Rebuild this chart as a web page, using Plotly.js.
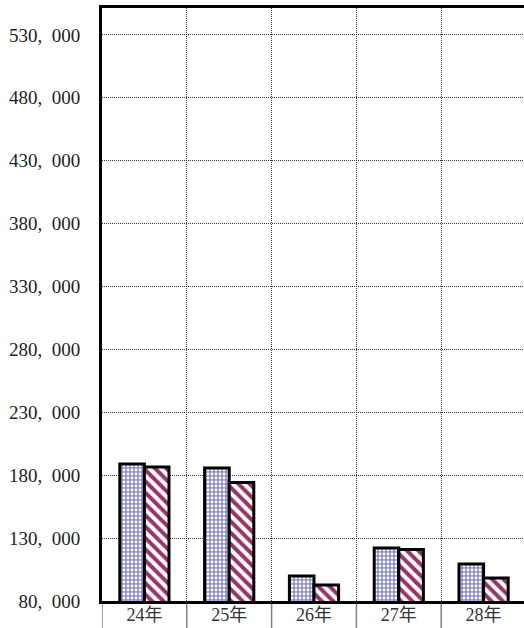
<!DOCTYPE html>
<html>
<head>
<meta charset="utf-8">
<script src="https://cdn.plot.ly/plotly-3.0.1.min.js"></script>
<style>
html,body{margin:0;padding:0;overflow:hidden;background:#fff;}
#chart{width:526px;height:628px;}
</style>
</head>
<body>
<div id="chart"></div>
<script>
const categories = ["24年", "25年", "26年", "27年", "28年"];
const seriesA = [188900, 185700, 99900, 122100, 109400];
const seriesB = [186500, 174200, 92700, 120900, 98300];
const yTickVals = [80000, 130000, 180000, 230000, 280000, 330000, 380000, 430000, 480000, 530000];
const yTickText = ["80,\u2002000", "130,\u2002000", "180,\u2002000", "230,\u2002000", "280,\u2002000", "330,\u2002000", "380,\u2002000", "430,\u2002000", "480,\u2002000", "530,\u2002000"];

const fontFam = "'Liberation Serif', 'DejaVu Serif', 'Noto Sans CJK JP', serif";

const traces = [
  {
    type: "bar", x: categories, y: seriesA,
    marker: {
      color: "#8a8acc",
      line: {color: "#000", width: 3},
      pattern: {shape: ".", fgcolor: "#ffffff", bgcolor: "#8a8acc", size: 4, solidity: 0.4}
    },
    hoverinfo: "none"
  },
  {
    type: "bar", x: categories, y: seriesB,
    marker: {
      color: "#ffffff",
      line: {color: "#000", width: 3},
      pattern: {shape: "\\", fgcolor: "#993366", bgcolor: "#ffffff", size: 8, solidity: 0.5}
    },
    hoverinfo: "none"
  }
];

const shapes = [];
for (let i = 0; i <= categories.length; i++) {
  shapes.push({type: "line", xref: "x", yref: "paper", x0: i - 0.5, x1: i - 0.5, y0: 0, y1: -0.06,
    line: {color: "#808080", width: 1.5}, layer: "below"});
}

const layout = {
  width: 526, height: 628,
  margin: {l: 102, r: 0, t: 8, b: 27},
  showlegend: false,
  barmode: "group", bargap: 0.42, bargroupgap: 0,
  plot_bgcolor: "#fff", paper_bgcolor: "#fff",
  font: {family: fontFam, size: 19, color: "#222"},
  xaxis: {
    type: "category", range: [-0.5, 4.5],
    tickson: "boundaries", ticks: "",
    showgrid: true, gridcolor: "#333", griddash: "1px,1px", gridwidth: 1,
    showline: true, linecolor: "#000", linewidth: 3, mirror: true,
    tickfont: {family: fontFam, size: 18, color: "#333"},
    ticklabelstandoff: -5,
    zeroline: false
  },
  yaxis: {
    range: [80000, 551400],
    tickvals: yTickVals, ticktext: yTickText,
    showgrid: true, gridcolor: "#333", griddash: "1px,1px", gridwidth: 1,
    showline: true, linecolor: "#000", linewidth: 3,
    ticks: "", ticklabelstandoff: 15,
    tickfont: {family: fontFam, size: 19, color: "#222"},
    zeroline: false
  },
  shapes: shapes
};

Plotly.newPlot("chart", traces, layout, {staticPlot: true, displayModeBar: false});
</script>
</body>
</html>
